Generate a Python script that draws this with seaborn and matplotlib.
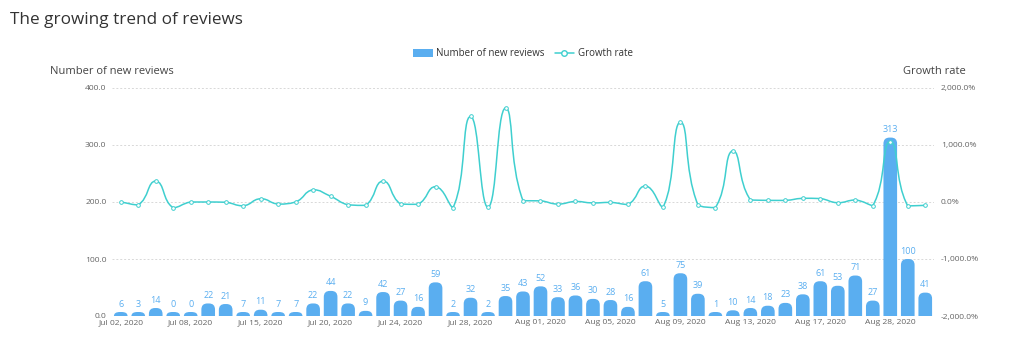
import numpy as np
import pandas as pd
import seaborn as sns
import matplotlib
matplotlib.use("Agg")
import matplotlib.pyplot as plt
from matplotlib.path import Path
from matplotlib.patches import PathPatch, FancyBboxPatch
from matplotlib.lines import Line2D
from matplotlib.ticker import FuncFormatter

# ---------------- data ----------------
dates = ["Jul 02", "Jul 03", "Jul 04", "Jul 06", "Jul 08", "Jul 10", "Jul 12", "Jul 14",
         "Jul 15", "Jul 16", "Jul 17", "Jul 19", "Jul 20", "Jul 21", "Jul 22", "Jul 23",
         "Jul 24", "Jul 25", "Jul 26", "Jul 27", "Jul 28", "Jul 29", "Jul 30", "Jul 31",
         "Aug 01", "Aug 02", "Aug 03", "Aug 04", "Aug 05", "Aug 06", "Aug 07", "Aug 08",
         "Aug 09", "Aug 10", "Aug 11", "Aug 12", "Aug 13", "Aug 14", "Aug 15", "Aug 16",
         "Aug 17", "Aug 18", "Aug 20", "Aug 24", "Aug 28", "Aug 29", "Aug 30"]
new_reviews = [6, 3, 14, 0, 0, 22, 21, 7, 11, 7, 7, 22, 44, 22, 9, 42, 27, 16, 59, 2,
               32, 2, 35, 43, 52, 33, 36, 30, 28, 16, 61, 5, 75, 39, 1, 10, 14, 18, 23, 38,
               61, 53, 71, 27, 313, 100, 41]
growth_rate = [0, -50, 366.7, -100, 0, 0, -4.5, -66.7, 57.1, -36.4, 0, 214.3, 100, -50,
               -59.1, 366.7, -35.7, -40.7, 268.8, -96.6, 1500, -93.8, 1650, 22.9, 20.9,
               -36.5, 9.1, -16.7, -6.7, -42.9, 281.3, -91.8, 1400, -48, -97.4, 900, 40,
               28.6, 27.8, 65.2, 60.5, -13.1, 34, -62, 1059.3, -68.1, -59]
year = "2020"
tick_every = 4

BAR = "#5aaef0"
LINE = "#3fcfcf"

sns.set_theme(style="white")
plt.rcParams["font.family"] = ["Open Sans", "DejaVu Sans"]

fig = plt.figure(figsize=(10.24, 3.5), dpi=100)
ax = fig.add_axes([112 / 1024, 34 / 350, 822 / 1024, 228 / 350])

df = pd.DataFrame({"date": dates, "reviews": new_reviews, "growth": growth_rate})
sns.barplot(data=df, x="date", y="reviews", color=BAR, saturation=1, width=0.78,
            ax=ax, zorder=2)

ax.set_xlim(-0.5, len(dates) - 0.5)
ax.set_ylim(0, 400)
ax.set_yticks(np.arange(0, 401, 100))
ax.yaxis.set_major_formatter(FuncFormatter(lambda v, p: f"{v:.1f}"))
ax.set_xticks(np.arange(0, len(dates), tick_every))
ax.set_xticklabels([f"{d}, {year}" for d in dates[::tick_every]])
ax.set_xlabel("")
ax.set_ylabel("")
ax.grid(axis="y", linestyle=(0, (2, 2)), color="#d8d8d8", lw=0.7, zorder=0)
ax.grid(axis="x", visible=False)
for s in ax.spines.values():
    s.set_visible(False)
ax.tick_params(axis="both", length=0, labelsize=6.1, colors="#666666")
ax.tick_params(axis="x", pad=2.5)
ax.tick_params(axis="y", pad=4)

# rounded-top bars
fig.canvas.draw()
pxx = ax.transData.transform((1, 0))[0] - ax.transData.transform((0, 0))[0]
pxy = ax.transData.transform((0, 1))[1] - ax.transData.transform((0, 0))[1]
r_px = 6.0
min_px = 4.0
for p, v in zip(list(ax.patches), new_reviews):
    x0 = p.get_x()
    w = p.get_width()
    h = max(p.get_height(), min_px / pxy)
    p.remove()
    ry = min(r_px / pxy, h)
    rx = min(r_px / pxx, w / 2)
    x1 = x0 + w
    verts = [(x0, 0), (x0, h - ry), (x0, h), (x0 + rx, h), (x1 - rx, h),
             (x1, h), (x1, h - ry), (x1, 0), (x0, 0)]
    codes = [Path.MOVETO, Path.LINETO, Path.CURVE3, Path.CURVE3, Path.LINETO,
             Path.CURVE3, Path.CURVE3, Path.LINETO, Path.CLOSEPOLY]
    ax.add_patch(PathPatch(Path(verts, codes), facecolor=BAR, edgecolor="none", zorder=2))
    ax.annotate(str(v), (x0 + w / 2, h), xytext=(0, 2.5), textcoords="offset points",
                ha="center", va="bottom", fontsize=6.5, color=BAR, zorder=3)

# secondary axis: growth rate
ax2 = ax.twinx()
ax2.set_ylim(-2000, 2000)
ax2.set_yticks(np.arange(-2000, 2001, 1000))
ax2.yaxis.set_major_formatter(FuncFormatter(lambda v, p: f"{v:,.1f}%"))
for s in ax2.spines.values():
    s.set_visible(False)
ax2.tick_params(axis="y", length=0, labelsize=6.1, colors="#666666", pad=5)
ax2.grid(False)

xs = np.arange(len(growth_rate))
fig.canvas.draw()
pts = ax2.transData.transform(np.column_stack([xs, growth_rate]))
smooth = 0.5
n = len(pts)
cp_out = [None] * n
cp_in = [None] * n
for i in range(n):
    p = pts[i]
    prev = pts[i - 1] if i > 0 else p
    nxt = pts[i + 1] if i < n - 1 else p
    v = nxt - prev
    l0 = np.hypot(*(p - prev))
    l1 = np.hypot(*(nxt - p))
    ratio = l1 / (l0 + l1) if (l0 + l1) > 0 else 0.5
    c1 = p + v * smooth * ratio
    c0 = p - v * smooth * (1 - ratio)
    c1 = np.clip(c1, np.minimum(p, nxt), np.maximum(p, nxt))
    c0 = np.clip(c0, np.minimum(p, prev), np.maximum(p, prev))
    cp_out[i] = c1
    cp_in[i] = c0
verts = [pts[0]]
codes = [Path.MOVETO]
for i in range(n - 1):
    verts += [cp_out[i], cp_in[i + 1], pts[i + 1]]
    codes += [Path.CURVE4] * 3
verts = ax2.transData.inverted().transform(np.array(verts))
ax2.add_patch(PathPatch(Path(verts, codes), facecolor="none", edgecolor=LINE, lw=1.1,
                        zorder=4))
sns.scatterplot(x=xs, y=growth_rate, ax=ax2, marker="o", s=7, facecolor="white",
                edgecolor=LINE, linewidth=0.7, zorder=5, legend=False)
ax2.set_xlim(-0.5, len(dates) - 0.5)
ax2.set_ylim(-2000, 2000)

# texts
fig.text(10 / 1024, 1 - 20 / 350, "The growing trend of reviews", fontsize=12.3,
         color="#333333", va="center", ha="left")
fig.text(112 / 1024, 1 - 72 / 350, "Number of new reviews", fontsize=8,
         color="#444444", va="center", ha="center")
fig.text(934 / 1024, 1 - 72 / 350, "Growth rate", fontsize=8,
         color="#444444", va="center", ha="center")

handles = [
    FancyBboxPatch((0, 0), 1, 1, boxstyle="round,pad=0,rounding_size=0.2",
                   facecolor=BAR, edgecolor="none"),
    Line2D([0], [0], color=LINE, lw=1.1, marker="o", markersize=4,
           markerfacecolor="white", markeredgecolor=LINE, markeredgewidth=1),
]
fig.legend(handles, ["Number of new reviews", "Growth rate"], loc="center",
           bbox_to_anchor=(523 / 1024, 1 - 54 / 350), ncol=2, frameon=False,
           fontsize=7, handlelength=2.0, handleheight=0.9, columnspacing=1.0,
           handletextpad=0.4, labelcolor="#333333")

fig.savefig("out.png", dpi=100)
